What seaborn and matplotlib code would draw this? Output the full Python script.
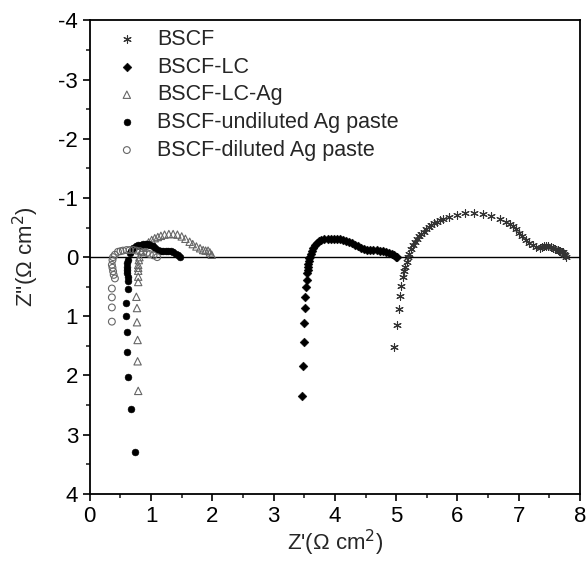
import numpy as np
import pandas as pd
import matplotlib
matplotlib.use('Agg')
import matplotlib.pyplot as plt
import seaborn as sns
from matplotlib.ticker import MultipleLocator

# impedance spectra, Z' and Z'' in ohm cm2
bscf_x = [4.97, 5.02, 5.05, 5.06, 5.08, 5.11, 5.13, 5.15, 5.17, 5.19, 5.21, 5.24, 5.27, 5.30, 5.34,
          5.38, 5.41, 5.45, 5.49, 5.53, 5.57, 5.62, 5.66, 5.71, 5.76, 5.87, 6.00, 6.13, 6.27, 6.42,
          6.55, 6.69, 6.80, 6.86, 6.91, 6.96, 7.01, 7.06, 7.12, 7.17, 7.23, 7.28, 7.34, 7.38, 7.41,
          7.45, 7.48, 7.52, 7.56, 7.60, 7.64, 7.66, 7.68, 7.70, 7.72, 7.74, 7.76, 7.78]
bscf_y = [1.52, 1.15, 0.88, 0.66, 0.48, 0.33, 0.24, 0.16, 0.08, 0.00, -0.06, -0.13, -0.21, -0.26, -0.30,
          -0.35, -0.39, -0.43, -0.47, -0.51, -0.55, -0.57, -0.59, -0.62, -0.64, -0.68, -0.71, -0.74, -0.74, -0.73,
          -0.70, -0.65, -0.59, -0.56, -0.52, -0.47, -0.41, -0.35, -0.29, -0.24, -0.20, -0.17, -0.15, -0.17, -0.18,
          -0.19, -0.19, -0.17, -0.15, -0.13, -0.12, -0.11, -0.10, -0.09, -0.08, -0.06, -0.04, -0.01]

lc_x = [3.46, 3.48, 3.49, 3.50, 3.51, 3.52, 3.53, 3.54, 3.55, 3.555, 3.56, 3.565, 3.57, 3.58, 3.60,
        3.61, 3.62, 3.64, 3.67, 3.70, 3.74, 3.78, 3.83, 3.88, 3.93, 3.98, 4.03, 4.08, 4.13, 4.18,
        4.23, 4.28, 4.33, 4.38, 4.43, 4.48, 4.53, 4.58, 4.63, 4.68, 4.73, 4.78, 4.83, 4.88, 4.93,
        4.97, 5.00, 5.02]
lc_y = [2.34, 1.84, 1.43, 1.11, 0.86, 0.67, 0.51, 0.38, 0.27, 0.21, 0.16, 0.11, 0.06, 0.02, -0.01,
        -0.05, -0.10, -0.15, -0.20, -0.24, -0.27, -0.29, -0.30, -0.31, -0.31, -0.31, -0.31, -0.30, -0.29, -0.28,
        -0.26, -0.24, -0.21, -0.18, -0.15, -0.13, -0.12, -0.12, -0.12, -0.12, -0.11, -0.10, -0.09, -0.07, -0.05,
        -0.03, -0.01, 0.00]

lcag_x = [0.79, 0.78, 0.78, 0.77, 0.77, 0.76, 0.79, 0.79, 0.79, 0.79, 0.79, 0.80, 0.81, 0.84, 0.88,
          0.92, 0.96, 1.01, 1.06, 1.11, 1.16, 1.22, 1.29, 1.36, 1.43, 1.50, 1.56, 1.63, 1.68, 1.74,
          1.80, 1.85, 1.89, 1.93, 1.96, 1.99]
lcag_y = [2.26, 1.76, 1.40, 1.10, 0.86, 0.67, 0.42, 0.33, 0.23, 0.18, 0.13, 0.05, 0.00, -0.10, -0.16,
          -0.21, -0.25, -0.29, -0.32, -0.34, -0.36, -0.38, -0.39, -0.39, -0.38, -0.35, -0.31, -0.26, -0.22, -0.18,
          -0.15, -0.12, -0.11, -0.11, -0.08, -0.04]

undil_x = [0.73, 0.67, 0.63, 0.61, 0.60, 0.59, 0.59, 0.63, 0.63, 0.62, 0.61, 0.61, 0.61, 0.61, 0.62,
           0.65, 0.68, 0.71, 0.75, 0.79, 0.83, 0.87, 0.91, 0.95, 0.99, 1.03, 1.07, 1.11, 1.16, 1.20,
           1.24, 1.28, 1.32, 1.36, 1.40, 1.44, 1.48]
undil_y = [3.29, 2.57, 2.03, 1.60, 1.27, 0.99, 0.78, 0.53, 0.41, 0.34, 0.27, 0.21, 0.16, 0.10, 0.05,
           -0.07, -0.11, -0.15, -0.18, -0.20, -0.21, -0.22, -0.22, -0.22, -0.20, -0.18, -0.15, -0.12, -0.10, -0.10,
           -0.11, -0.11, -0.10, -0.08, -0.06, -0.04, -0.01]

dil_x = [0.36, 0.36, 0.36, 0.36, 0.41, 0.39, 0.38, 0.37, 0.36, 0.37, 0.38, 0.41, 0.46, 0.50, 0.54,
         0.60, 0.65, 0.71, 0.76, 0.82, 0.87, 0.93, 0.98, 1.04, 1.10]
dil_y = [1.09, 0.85, 0.68, 0.53, 0.36, 0.30, 0.24, 0.18, 0.13, 0.05, 0.00, -0.04, -0.09, -0.10, -0.11,
         -0.12, -0.12, -0.12, -0.11, -0.10, -0.08, -0.07, -0.05, -0.03, 0.00]

labels = ['BSCF', 'BSCF-LC', 'BSCF-LC-Ag', 'BSCF-undiluted Ag paste', 'BSCF-diluted Ag paste']
xs = [bscf_x, lc_x, lcag_x, undil_x, dil_x]
ys = [bscf_y, lc_y, lcag_y, undil_y, dil_y]

sns.set_style('ticks')
plt.rcParams['font.family'] = ['Liberation Sans', 'DejaVu Sans']
plt.rcParams['axes.unicode_minus'] = False

fig = plt.figure(figsize=(5.87, 5.67), dpi=100)
ax = fig.add_axes([0.153, 0.129, 0.835, 0.835])

styles = [
    dict(marker=(6, 2, 0), s=30, color='#333333', linewidth=0.8),
    dict(marker='D', s=20, color='black', edgecolor='black'),
    dict(marker='^', s=28, facecolor='none', edgecolor='#666666', linewidth=0.8),
    dict(marker='o', s=24, color='black', edgecolor='black'),
    dict(marker='o', s=24, facecolor='none', edgecolor='#666666', linewidth=0.8),
]

for lab, x, y, st in zip(labels, xs, ys, styles):
    df = pd.DataFrame({'zr': x, 'zi': y})
    sns.scatterplot(data=df, x='zr', y='zi', ax=ax, label=lab, **st)

ax.axhline(0, color='black', lw=1.0, zorder=0)
ax.set_xlim(0, 8)
ax.set_ylim(4, -4)
ax.xaxis.set_major_locator(MultipleLocator(1))
ax.xaxis.set_minor_locator(MultipleLocator(0.5))
ax.yaxis.set_major_locator(MultipleLocator(1))
ax.yaxis.set_minor_locator(MultipleLocator(0.5))
ax.tick_params(which='major', direction='out', length=5, width=1.2, labelsize=16, colors='black')
ax.tick_params(which='minor', direction='out', length=3, width=1.2)
for sp in ax.spines.values():
    sp.set_linewidth(1.3)
    sp.set_color('black')
ax.set_xlabel("Z'(\u03a9 cm$^2$)", fontsize=16, labelpad=1)
ax.set_ylabel("Z''(\u03a9 cm$^2$)", fontsize=16, labelpad=12)

ax.legend(loc='upper left', frameon=False, fontsize=15.5, handletextpad=0.9, handlelength=1.0,
          labelspacing=0.31, borderaxespad=0.0, bbox_to_anchor=(0.036, 1.0))

fig.savefig('out.png', dpi=100)
